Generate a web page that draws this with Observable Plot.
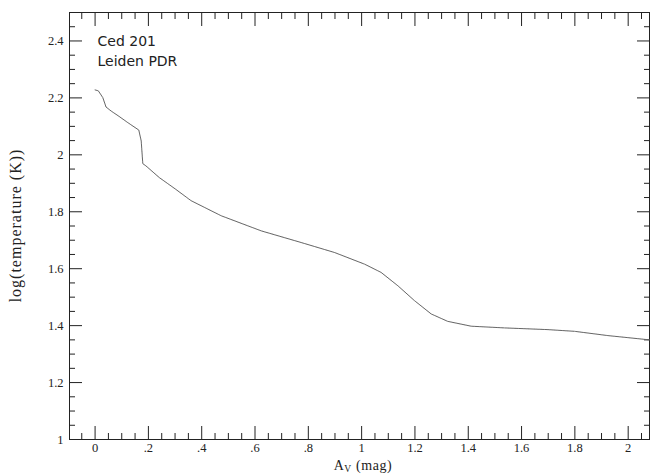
<!DOCTYPE html>
<html>
<head>
<meta charset="utf-8">
<script src="https://cdn.jsdelivr.net/npm/d3@7"></script>
<script src="https://cdn.jsdelivr.net/npm/@observablehq/plot@0.6"></script>
<style>
  html, body { margin: 0; padding: 0; background: #fff; }
  #chart svg { display: block; }
</style>
</head>
<body>
<div id="chart"></div>
<script>
// Data
const avValues = [0.0, 0.012, 0.029, 0.041, 0.06, 0.09, 0.123, 0.164, 0.173, 0.179, 0.191, 0.241, 0.301, 0.36, 0.473, 0.623, 0.773, 0.898, 1.011, 1.073, 1.136, 1.198, 1.261, 1.323, 1.411, 1.536, 1.699, 1.799, 1.924, 2.08];
const logTemp = [2.228, 2.225, 2.201, 2.168, 2.154, 2.135, 2.113, 2.087, 2.049, 1.969, 1.961, 1.920, 1.880, 1.839, 1.786, 1.733, 1.692, 1.657, 1.616, 1.587, 1.540, 1.488, 1.441, 1.415, 1.398, 1.392, 1.386, 1.380, 1.365, 1.350];

const xMajorTicks = [0, 0.2, 0.4, 0.6, 0.8, 1, 1.2, 1.4, 1.6, 1.8, 2];
const xTickLabels = ["0", ".2", ".4", ".6", ".8", "1", "1.2", "1.4", "1.6", "1.8", "2"];
const xMinorTicks = [-0.05, 0.05, 0.1, 0.15, 0.25, 0.3, 0.35, 0.45, 0.5, 0.55, 0.65, 0.7, 0.75, 0.85, 0.9, 0.95, 1.05, 1.1, 1.15, 1.25, 1.3, 1.35, 1.45, 1.5, 1.55, 1.65, 1.7, 1.75, 1.85, 1.9, 1.95, 2.05];
const yMajorTicks = [1, 1.2, 1.4, 1.6, 1.8, 2, 2.2, 2.4];
const yTickLabels = ["1", "1.2", "1.4", "1.6", "1.8", "2", "2.2", "2.4"];
const yMinorTicks = [1.05, 1.1, 1.15, 1.25, 1.3, 1.35, 1.45, 1.5, 1.55, 1.65, 1.7, 1.75, 1.85, 1.9, 1.95, 2.05, 2.1, 2.15, 2.25, 2.3, 2.35, 2.45];
const annotations = ["Ced 201", "Leiden PDR"];

const data = avValues.map((x, i) => ({x, y: logTemp[i]}));
const xFmt = new Map(xMajorTicks.map((t, i) => [t, xTickLabels[i]]));
const yFmt = new Map(yMajorTicks.map((t, i) => [t, yTickLabels[i]]));

const axisColor = "#222";
const plot = Plot.plot({
  width: 650,
  height: 474,
  marginLeft: 69,
  marginRight: 1,
  marginTop: 12,
  marginBottom: 35,
  style: {fontFamily: "Liberation Serif", fontSize: "12px", color: "#222", background: "#fff"},
  x: {domain: [-0.096, 2.08]},
  y: {domain: [1, 2.5]},
  marks: [
    Plot.frame({stroke: axisColor, strokeWidth: 1}),
    // tick labels
    Plot.axisX({anchor: "bottom", ticks: xMajorTicks, tickSize: 0, tickPadding: 4, tickFormat: d => xFmt.get(d), label: null, fontSize: 12.5, style: {letterSpacing: "1px"}}),
    Plot.axisY({anchor: "left", ticks: yMajorTicks, tickSize: 0, tickPadding: 6, tickFormat: d => yFmt.get(d), label: null, fontSize: 12.5, style: {letterSpacing: "1px"}}),
    // inward ticks
    Plot.axisX({anchor: "bottom", ticks: xMajorTicks, tickSize: -13, text: null, label: null, stroke: axisColor}),
    Plot.axisX({anchor: "bottom", ticks: xMinorTicks, tickSize: -6, text: null, label: null, stroke: axisColor}),
    Plot.axisX({anchor: "top", ticks: xMajorTicks, tickSize: -13, text: null, label: null, stroke: axisColor}),
    Plot.axisX({anchor: "top", ticks: xMinorTicks, tickSize: -6, text: null, label: null, stroke: axisColor}),
    Plot.axisY({anchor: "left", ticks: yMajorTicks, tickSize: 13, dx: 13, text: null, label: null, stroke: axisColor}),
    Plot.axisY({anchor: "left", ticks: yMinorTicks, tickSize: 6, dx: 6, text: null, label: null, stroke: axisColor}),
    Plot.axisY({anchor: "right", ticks: yMajorTicks, tickSize: -13, text: null, label: null, stroke: axisColor}),
    Plot.axisY({anchor: "right", ticks: yMinorTicks, tickSize: -6, text: null, label: null, stroke: axisColor}),
    // curve
    Plot.line(data, {x: "x", y: "y", stroke: "#666", strokeWidth: 1, strokeDasharray: "2,0.6"}),
    // annotations
    Plot.text([annotations[0]], {frameAnchor: "top-left", dx: 28, dy: 33, text: d => d, fontFamily: "DejaVu Sans", fontSize: 14, fill: "#222", textAnchor: "start", lineAnchor: "bottom"}),
    Plot.text([annotations[1]], {frameAnchor: "top-left", dx: 28, dy: 53, text: d => d, fontFamily: "DejaVu Sans", fontSize: 14, fill: "#222", textAnchor: "start", lineAnchor: "bottom"})
  ]
});

const svg = d3.select(plot);
const xs = plot.scale("x"), ys = plot.scale("y");
const cx = (xs.range[0] + xs.range[1]) / 2;
const cy = (ys.range[0] + ys.range[1]) / 2;
// x label with subscript
const xl = svg.append("text")
  .attr("x", cx + 4).attr("y", 470)
  .attr("text-anchor", "middle")
  .attr("font-family", "Liberation Serif").attr("font-size", 14).attr("letter-spacing", 0.6).attr("fill", "#222");
xl.append("tspan").text("A");
xl.append("tspan").attr("font-size", 9.5).attr("dy", 2).text("V");
xl.append("tspan").attr("dy", -2).text(" (mag)");
// y label
svg.append("text")
  .attr("transform", `translate(21,${cy}) rotate(-90)`)
  .attr("text-anchor", "middle")
  .attr("font-family", "Liberation Serif").attr("font-size", 16).attr("letter-spacing", 1).attr("fill", "#222")
  .text("log(temperature (K))");

document.getElementById("chart").appendChild(plot);
</script>
</body>
</html>
